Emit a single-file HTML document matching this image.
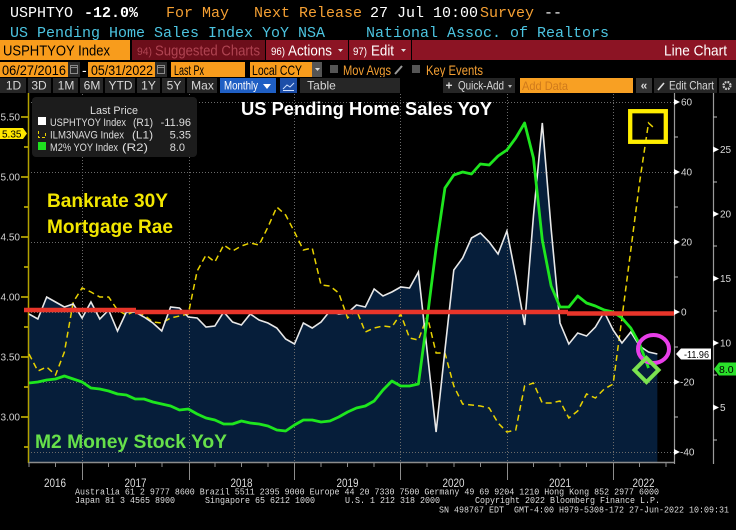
<!DOCTYPE html>
<html><head><meta charset="utf-8"><title>US Pending Home Sales YoY</title>
<style>
html,body{margin:0;padding:0;background:#000;}
svg{display:block;}
</style></head><body>
<svg width="736" height="530" viewBox="0 0 736 530" xmlns="http://www.w3.org/2000/svg">
<rect width="736" height="530" fill="#000"/>

<!-- Row 1 & 2 : ticker header -->
<g font-family="Liberation Mono, monospace" font-size="15">
<text x="10" y="17" fill="#ffffff">USPHTYO</text>
<text x="84" y="17" fill="#ffffff" font-weight="bold">-12.0%</text>
<text x="166" y="17" fill="#f5a033">For May</text>
<text x="254" y="17" fill="#f5a033">Next Release</text>
<text x="370" y="17" fill="#ffffff">27 Jul 10:00</text>
<text x="480" y="17" fill="#f5a033">Survey</text>
<text x="544" y="17" fill="#ffffff">--</text>
<text x="10" y="37" fill="#4cc4e0">US Pending Home Sales Index YoY NSA</text>
<text x="366" y="37" fill="#4cc4e0">National Assoc. of Realtors</text>
</g>

<!-- Row 3 : red bar -->
<g font-family="Liberation Sans, sans-serif">
<rect x="0" y="40" width="130" height="20" fill="#f89c1c"/>
<text x="3" y="55.5" font-size="15" fill="#000" textLength="107" lengthAdjust="spacingAndGlyphs">USPHTYOY Index</text>
<rect x="132" y="40" width="133" height="20" fill="#6c0e1a"/>
<text x="137" y="55" font-size="11" fill="#b04452" textLength="15" lengthAdjust="spacingAndGlyphs">94)</text>
<text x="155" y="55.5" font-size="15" fill="#b04452" textLength="105" lengthAdjust="spacingAndGlyphs">Suggested Charts</text>
<rect x="266" y="40" width="82" height="20" fill="#8c1424"/>
<text x="271" y="55" font-size="11" fill="#ffffff" textLength="14" lengthAdjust="spacingAndGlyphs">96)</text>
<text x="288" y="55.5" font-size="15" fill="#ffffff" textLength="44" lengthAdjust="spacingAndGlyphs">Actions</text>
<polygon points="338,49 343,49 340.5,52" fill="#dddddd"/>
<rect x="349" y="40" width="62" height="20" fill="#8c1424"/>
<text x="353" y="55" font-size="11" fill="#ffffff" textLength="14" lengthAdjust="spacingAndGlyphs">97)</text>
<text x="371" y="55.5" font-size="15" fill="#ffffff" textLength="23" lengthAdjust="spacingAndGlyphs">Edit</text>
<polygon points="401,49 406,49 403.5,52" fill="#dddddd"/>
<rect x="412" y="40" width="324" height="20" fill="#8c1424"/>
<text x="727" y="55.5" font-size="15" fill="#ffffff" text-anchor="end" textLength="63" lengthAdjust="spacingAndGlyphs">Line Chart</text>
</g>

<!-- Row 4 : date range -->
<g font-family="Liberation Sans, sans-serif" font-size="14">
<rect x="0" y="62" width="68" height="15" fill="#f89c1c"/>
<text x="2" y="75" fill="#000" textLength="64" lengthAdjust="spacingAndGlyphs">06/27/2016</text>
<rect x="68" y="62" width="12" height="15" fill="#2a2a2a"/>
<rect x="70.5" y="65.5" width="7" height="8" fill="none" stroke="#8a8a8a" stroke-width="1"/>
<line x1="70.5" y1="67.5" x2="77.5" y2="67.5" stroke="#8a8a8a"/>
<text x="82" y="75" fill="#ffffff">-</text>
<rect x="88" y="62" width="67" height="15" fill="#f89c1c"/>
<text x="91" y="75" fill="#000" textLength="62" lengthAdjust="spacingAndGlyphs">05/31/2022</text>
<rect x="155" y="62" width="12" height="15" fill="#2a2a2a"/>
<rect x="157.5" y="65.5" width="7" height="8" fill="none" stroke="#8a8a8a" stroke-width="1"/>
<line x1="157.5" y1="67.5" x2="164.5" y2="67.5" stroke="#8a8a8a"/>
<rect x="171" y="62" width="74" height="15" fill="#f89c1c"/>
<text x="174" y="75" fill="#000" textLength="30" lengthAdjust="spacingAndGlyphs">Last Px</text>
<rect x="250" y="62" width="62" height="15" fill="#f89c1c"/>
<text x="252" y="75" fill="#000" textLength="50" lengthAdjust="spacingAndGlyphs">Local CCY</text>
<rect x="312" y="62" width="10" height="15" fill="#555555"/>
<polygon points="315,68 320,68 317.5,71" fill="#dddddd"/>
<rect x="330" y="65" width="8" height="8" fill="#555555"/>
<text x="343" y="75" fill="#f5a033" textLength="48" lengthAdjust="spacingAndGlyphs">Mov Avgs</text>
<line x1="395" y1="74" x2="402" y2="66" stroke="#999" stroke-width="2"/>
<rect x="412" y="65" width="8" height="8" fill="#555555"/>
<text x="426" y="75" fill="#f5a033" textLength="57" lengthAdjust="spacingAndGlyphs">Key Events</text>
</g>

<!-- Row 5 : buttons -->
<g font-family="Liberation Sans, sans-serif" font-size="12" fill="#d8d8d8" text-anchor="middle">
<rect x="0" y="77" width="736" height="16" fill="#000"/>
<rect x="0" y="78" width="26" height="15" fill="#262626"/>
<rect x="28" y="78" width="23" height="15" fill="#262626"/>
<rect x="53" y="78" width="25" height="15" fill="#262626"/>
<rect x="80" y="78" width="23" height="15" fill="#262626"/>
<rect x="105" y="78" width="30" height="15" fill="#262626"/>
<rect x="137" y="78" width="23" height="15" fill="#262626"/>
<rect x="162" y="78" width="23" height="15" fill="#262626"/>
<rect x="187" y="78" width="30" height="15" fill="#262626"/>
<rect x="220" y="78" width="56" height="15" fill="#1f5fc4"/>
<rect x="280" y="78" width="17" height="15" fill="#1d4ea8"/>
<rect x="300" y="78" width="100" height="15" fill="#262626"/>
<rect x="443" y="78" width="72" height="15" fill="#262626"/>
<rect x="520" y="78" width="113" height="15" fill="#f8a023"/>
<rect x="636" y="78" width="16" height="15" fill="#333333"/>
<rect x="654" y="78" width="63" height="15" fill="#262626"/>
<rect x="719" y="78" width="17" height="15" fill="#262626"/>
<text x="13.5" y="89.5">1D</text>
<text x="39" y="89.5">3D</text>
<text x="66" y="89.5">1M</text>
<text x="92" y="89.5">6M</text>
<text x="120.5" y="89.5">YTD</text>
<text x="148.5" y="89.5">1Y</text>
<text x="174" y="89.5">5Y</text>
<text x="202.5" y="89.5">Max</text>
<text x="241" y="89.5" fill="#ffffff" textLength="34" lengthAdjust="spacingAndGlyphs">Monthly</text>
<polygon points="263,84 271,84 267,89" fill="#ffffff"/>
<polyline points="283,89 287,85 290,87 294,83" fill="none" stroke="#cfe0ff" stroke-width="1"/>
<line x1="283" y1="90.5" x2="294" y2="90.5" stroke="#cfe0ff" stroke-width="1"/>
<text x="321.5" y="89.5">Table</text>
<text x="449" y="89.5" font-weight="bold">+</text>
<text x="481" y="89.5" textLength="46" lengthAdjust="spacingAndGlyphs">Quick-Add</text>
<polygon points="508,85 512,85 510,88" fill="#bbbbbb"/>
<text x="545" y="90" fill="#cf7a1c" textLength="46" lengthAdjust="spacingAndGlyphs">Add Data</text>
<text x="644" y="89.5" font-weight="bold">«</text>
<line x1="658" y1="90" x2="664" y2="83" stroke="#dddddd" stroke-width="1.6"/>
<text x="691.5" y="89.5" textLength="45" lengthAdjust="spacingAndGlyphs">Edit Chart</text>
<circle cx="727" cy="85.5" r="3.5" fill="none" stroke="#cccccc" stroke-width="2.2" stroke-dasharray="1.8,1"/>
</g>

<!-- ===== Chart ===== -->
<polygon fill="#061e3a" points="29,314 37.85,319 46.7,297 55.55,302 64.4,307 73.25,304 82.1,318 90.95,302 99.8,319 108.65,310 117.5,331 126.35,312 135.2,312 144.05,317 152.9,323 161.75,331 170.6,307 179.45,308 188.3,317 197.15,318 206,327 214.85,326 223.7,312 232.55,322 241.4,325 250.25,314 259.1,320 267.95,323 276.8,328 285.65,339 294.5,344 303.35,323 312.2,328 321.05,322 329.9,311 338.75,314 347.6,313 356.45,305 365.3,307 374.15,289 383,296 391.85,292 400.7,287 409.55,288 418.4,272 427.25,352 436.1,432 444.95,350 453.8,270 462.65,258 471.5,238 480.35,233 489.2,242 498.05,254 506.9,231 515.75,276 524.6,325 533.45,216 542.3,123 551.15,229 560,323 568.85,344 577.7,333 586.55,336 595.4,327 604.25,312 613.1,330 621.95,343 630.8,332 639.65,346 648.5,352 657.35,354 657.35,462 29,462"/>

<g stroke="#6a6a6a" stroke-width="1" stroke-dasharray="1,2" fill="none">
<line x1="28" y1="102.5" x2="674" y2="102.5"/>
<line x1="28" y1="172.5" x2="674" y2="172.5"/>
<line x1="28" y1="242.5" x2="674" y2="242.5"/>
<line x1="28" y1="312.5" x2="674" y2="312.5"/>
<line x1="28" y1="382.5" x2="674" y2="382.5"/>
<line x1="28" y1="452.5" x2="674" y2="452.5"/>
<line x1="82.5" y1="94" x2="82.5" y2="462"/>
<line x1="189.5" y1="94" x2="189.5" y2="462"/>
<line x1="294.5" y1="94" x2="294.5" y2="462"/>
<line x1="400.5" y1="94" x2="400.5" y2="462"/>
<line x1="507.5" y1="94" x2="507.5" y2="462"/>
<line x1="613.5" y1="94" x2="613.5" y2="462"/>
</g>

<line x1="28" y1="462.5" x2="674" y2="462.5" stroke="#8c8c8c" stroke-width="1.5"/>
<line x1="28.5" y1="93" x2="28.5" y2="463" stroke="#b3a200" stroke-width="1.5"/>
<line x1="674.5" y1="93" x2="674.5" y2="464" stroke="#9a9a9a" stroke-width="1.2"/>
<line x1="713.5" y1="93" x2="713.5" y2="464" stroke="#9a9a9a" stroke-width="1.2"/>

<g stroke="#8c8c8c" stroke-width="1">
<line x1="29" y1="462" x2="29" y2="467"/><line x1="55.5" y1="462" x2="55.5" y2="467"/>
<line x1="82.5" y1="462" x2="82.5" y2="480"/><line x1="108.5" y1="462" x2="108.5" y2="467"/>
<line x1="135.5" y1="462" x2="135.5" y2="467"/><line x1="162" y1="462" x2="162" y2="467"/>
<line x1="189.5" y1="462" x2="189.5" y2="480"/><line x1="215" y1="462" x2="215" y2="467"/>
<line x1="241.5" y1="462" x2="241.5" y2="467"/><line x1="268" y1="462" x2="268" y2="467"/>
<line x1="294.5" y1="462" x2="294.5" y2="480"/><line x1="321" y1="462" x2="321" y2="467"/>
<line x1="347.5" y1="462" x2="347.5" y2="467"/><line x1="374" y1="462" x2="374" y2="467"/>
<line x1="400.5" y1="462" x2="400.5" y2="480"/><line x1="427" y1="462" x2="427" y2="467"/>
<line x1="454" y1="462" x2="454" y2="467"/><line x1="480.5" y1="462" x2="480.5" y2="467"/>
<line x1="507.5" y1="462" x2="507.5" y2="480"/><line x1="533.5" y1="462" x2="533.5" y2="467"/>
<line x1="560" y1="462" x2="560" y2="467"/><line x1="586.5" y1="462" x2="586.5" y2="467"/>
<line x1="613.5" y1="462" x2="613.5" y2="480"/><line x1="639.5" y1="462" x2="639.5" y2="467"/>
<line x1="666" y1="462" x2="666" y2="467"/>
</g>

<g font-family="Liberation Sans, sans-serif" font-size="11.5" fill="#dddddd" text-anchor="middle">
<text x="55" y="487" textLength="22" lengthAdjust="spacingAndGlyphs">2016</text>
<text x="135.5" y="487" textLength="22" lengthAdjust="spacingAndGlyphs">2017</text>
<text x="241.5" y="487" textLength="22" lengthAdjust="spacingAndGlyphs">2018</text>
<text x="347.5" y="487" textLength="22" lengthAdjust="spacingAndGlyphs">2019</text>
<text x="453.5" y="487" textLength="22" lengthAdjust="spacingAndGlyphs">2020</text>
<text x="560" y="487" textLength="22" lengthAdjust="spacingAndGlyphs">2021</text>
<text x="643.5" y="487" textLength="22" lengthAdjust="spacingAndGlyphs">2022</text>
</g>

<g font-family="Liberation Sans, sans-serif" font-size="10" fill="#d0d0d0" text-anchor="end">
<text x="20" y="120.5">5.50</text>
<text x="20" y="180.5">5.00</text>
<text x="20" y="240.5">4.50</text>
<text x="20" y="300.5">4.00</text>
<text x="20" y="360.5">3.50</text>
<text x="20" y="420.5">3.00</text>
</g>
<g stroke="#d4c000" stroke-width="1.5">
<line x1="21" y1="117" x2="28" y2="117"/><line x1="21" y1="177" x2="28" y2="177"/>
<line x1="21" y1="237" x2="28" y2="237"/><line x1="21" y1="297" x2="28" y2="297"/>
<line x1="21" y1="357" x2="28" y2="357"/><line x1="21" y1="417" x2="28" y2="417"/>
<line x1="24" y1="147" x2="28" y2="147"/><line x1="24" y1="207" x2="28" y2="207"/>
<line x1="24" y1="267" x2="28" y2="267"/><line x1="24" y1="327" x2="28" y2="327"/>
<line x1="24" y1="387" x2="28" y2="387"/><line x1="24" y1="447" x2="28" y2="447"/>
</g>
<polygon points="0,128 23,128 27,133.5 23,139 0,139" fill="#ffe800"/>
<text x="2" y="137.5" font-family="Liberation Sans, sans-serif" font-size="10" fill="#000">5.35</text>

<g fill="#ffffff">
<polygon points="674,99 680,102 674,105"/><polygon points="674,169 680,172 674,175"/>
<polygon points="674,239 680,242 674,245"/><polygon points="674,309 680,312 674,315"/>
<polygon points="674,379 680,382 674,385"/><polygon points="674,449 680,452 674,455"/>
</g>
<g stroke="#bbbbbb" stroke-width="1">
<line x1="674" y1="137" x2="678" y2="137"/><line x1="674" y1="207" x2="678" y2="207"/>
<line x1="674" y1="277" x2="678" y2="277"/><line x1="674" y1="347" x2="678" y2="347"/>
<line x1="674" y1="417" x2="678" y2="417"/>
</g>
<g font-family="Liberation Sans, sans-serif" font-size="10" fill="#d8d8d8">
<text x="681" y="105.5">60</text>
<text x="681" y="175.5">40</text>
<text x="681" y="245.5">20</text>
<text x="681" y="315.5">0</text>
<text x="680" y="385.5">-20</text>
<text x="680" y="455.5">-40</text>
</g>

<g fill="#ffffff">
<polygon points="713,146.5 719,149.5 713,152.5"/><polygon points="713,211 719,214 713,217"/>
<polygon points="713,275.5 719,278.5 713,281.5"/><polygon points="713,340 719,343 713,346"/>
<polygon points="713,404.5 719,407.5 713,410.5"/>
</g>
<g stroke="#bbbbbb" stroke-width="1">
<line x1="713" y1="117" x2="717" y2="117"/><line x1="713" y1="182" x2="717" y2="182"/>
<line x1="713" y1="246" x2="717" y2="246"/><line x1="713" y1="311" x2="717" y2="311"/>
<line x1="713" y1="375" x2="717" y2="375"/><line x1="713" y1="440" x2="717" y2="440"/>
</g>
<g font-family="Liberation Sans, sans-serif" font-size="10" fill="#d8d8d8">
<text x="720" y="153">25</text>
<text x="720" y="217.5">20</text>
<text x="720" y="282">15</text>
<text x="720" y="346.5">10</text>
<text x="720" y="411">5</text>
</g>

<polyline fill="none" stroke="#e8d200" stroke-width="1.5" stroke-dasharray="6,4" points="29,354 37.85,371 46.7,367 55.55,375 64.4,352 73.25,302 82.1,288 90.95,292 99.8,297 108.65,297 117.5,310 126.35,315 135.2,311 144.05,315 152.9,322 161.75,323 170.6,318 179.45,316 188.3,314 197.15,271 206,255 214.85,262 223.7,245 232.55,251 241.4,246 250.25,243 259.1,245 267.95,227 276.8,207 285.65,215 294.5,232 303.35,250 312.2,248 321.05,285 329.9,286 338.75,293 347.6,318 356.45,310 365.3,332 374.15,328 383,326 391.85,327 400.7,314 409.55,338 418.4,340 427.25,316 436.1,353 444.95,353 453.8,386 462.65,404 471.5,405 480.35,406 489.2,408 498.05,423 506.9,432 515.75,430 524.6,386 533.45,383 542.3,403 551.15,403 560,401 568.85,418 577.7,411 586.55,394 595.4,398 604.25,389 613.1,384 621.95,318 630.8,250 639.65,182 648.5,123 654,128"/>

<polyline fill="none" stroke="#e8e8e8" stroke-width="1.6" points="29,314 37.85,319 46.7,297 55.55,302 64.4,307 73.25,304 82.1,318 90.95,302 99.8,319 108.65,310 117.5,331 126.35,312 135.2,312 144.05,317 152.9,323 161.75,331 170.6,307 179.45,308 188.3,317 197.15,318 206,327 214.85,326 223.7,312 232.55,322 241.4,325 250.25,314 259.1,320 267.95,323 276.8,328 285.65,339 294.5,344 303.35,323 312.2,328 321.05,322 329.9,311 338.75,314 347.6,313 356.45,305 365.3,307 374.15,289 383,296 391.85,292 400.7,287 409.55,288 418.4,272 427.25,352 436.1,432 444.95,350 453.8,270 462.65,258 471.5,238 480.35,233 489.2,242 498.05,254 506.9,231 515.75,276 524.6,325 533.45,216 542.3,123 551.15,229 560,323 568.85,344 577.7,333 586.55,336 595.4,327 604.25,312 613.1,330 621.95,343 630.8,332 639.65,346 648.5,352 657.35,354"/>

<polyline fill="none" stroke="#1ee61e" stroke-width="2.8" stroke-linejoin="round" points="29,383 37.85,382 46.7,380 55.55,379 64.4,376 73.25,379 82.1,382 90.95,388 99.8,389 108.65,391 117.5,394 126.35,395 135.2,399 144.05,399 152.9,402 161.75,404 170.6,406 179.45,410 188.3,409 197.15,414 206,418 214.85,420 223.7,424 232.55,424 241.4,421 250.25,423 259.1,424 267.95,426 276.8,430 285.65,431 294.5,425 303.35,420 312.2,420 321.05,422 329.9,421 338.75,417 347.6,412 356.45,408 365.3,406 374.15,401 383,390 391.85,381 400.7,386 409.55,386 418.4,384 427.25,318 436.1,248 444.95,188 453.8,175 462.65,172 471.5,174 480.35,164 489.2,165 498.05,156 506.9,150 515.75,138 524.6,123 533.45,158 542.3,240 551.15,286 560,307 568.85,307 577.7,296 586.55,303 595.4,306 604.25,310 613.1,312 621.95,318 630.8,328 639.65,344 648.5,368"/>

<g stroke="#e8352a" stroke-width="4.5">
<line x1="24" y1="310" x2="136" y2="310"/>
<line x1="135" y1="312" x2="568" y2="312"/>
<line x1="567" y1="313.5" x2="674" y2="313.5"/>
</g>

<rect x="630.2" y="111.2" width="35.6" height="30.6" fill="none" stroke="#ffee00" stroke-width="4.3"/>
<ellipse cx="653.5" cy="349" rx="15.5" ry="14" fill="none" stroke="#e83ee8" stroke-width="4"/>
<polygon points="646.5,358 658.5,370 646.5,382 634.5,370" fill="none" stroke="#7be34f" stroke-width="4"/>

<polygon points="676,354 681,348.5 711,348.5 711,359.5 681,359.5" fill="#ffffff"/>
<text x="684" y="357.8" font-family="Liberation Sans, sans-serif" font-size="10" fill="#000" textLength="25" lengthAdjust="spacingAndGlyphs">-11.96</text>
<polygon points="714,369 719,362.5 736,362.5 736,375.5 719,375.5" fill="#2ae02a"/>
<text x="719" y="373" font-family="Liberation Sans, sans-serif" font-size="10.5" fill="#000">8.0</text>

<rect x="32" y="97" width="165" height="60" rx="4" fill="#1c1c1c"/>
<g font-family="Liberation Sans, sans-serif" font-size="11" fill="#dddddd">
<text x="90" y="114" textLength="48" lengthAdjust="spacingAndGlyphs">Last Price</text>
<rect x="38" y="117" width="8" height="8" fill="#ffffff"/>
<text x="50" y="126" textLength="76" lengthAdjust="spacingAndGlyphs">USPHTYOY Index</text>
<text x="133" y="126" textLength="20" lengthAdjust="spacingAndGlyphs">(R1)</text>
<text x="191" y="126" text-anchor="end">-11.96</text>
<path d="M38.5,131 V137.5 H45.5 V131" fill="none" stroke="#e8d200" stroke-width="1" stroke-dasharray="3,2"/>
<text x="50" y="138.5" textLength="74" lengthAdjust="spacingAndGlyphs">ILM3NAVG Index</text>
<text x="132" y="138.5" textLength="21" lengthAdjust="spacingAndGlyphs">(L1)</text>
<text x="191" y="138.5" text-anchor="end">5.35</text>
<rect x="38" y="142" width="8" height="8" fill="#1fe01f"/>
<text x="50" y="151" textLength="68" lengthAdjust="spacingAndGlyphs">M2% YOY Index</text>
<text x="122" y="151" textLength="26" lengthAdjust="spacingAndGlyphs">(R2)</text>
<text x="185" y="151" text-anchor="end">8.0</text>
</g>

<g font-family="Liberation Sans, sans-serif" font-weight="bold">
<text x="241" y="115" font-size="18" fill="#ffffff" textLength="251" lengthAdjust="spacingAndGlyphs">US Pending Home Sales YoY</text>
<text x="47" y="207" font-size="19" fill="#f2e600" textLength="121" lengthAdjust="spacingAndGlyphs">Bankrate 30Y</text>
<text x="47" y="233" font-size="19" fill="#f2e600" textLength="126" lengthAdjust="spacingAndGlyphs">Mortgage Rae</text>
<text x="35" y="448" font-size="19" fill="#66e04a" textLength="192" lengthAdjust="spacingAndGlyphs">M2 Money Stock YoY</text>
</g>

<g font-family="Liberation Mono, monospace" font-size="9.5" fill="#dddddd">
<text x="75" y="494.5" textLength="584" lengthAdjust="spacingAndGlyphs">Australia 61 2 9777 8600 Brazil 5511 2395 9000 Europe 44 20 7330 7500 Germany 49 69 9204 1210 Hong Kong 852 2977 6000</text>
<text x="75" y="503" textLength="100" lengthAdjust="spacingAndGlyphs">Japan 81 3 4565 8900</text>
<text x="205" y="503" textLength="110" lengthAdjust="spacingAndGlyphs">Singapore 65 6212 1000</text>
<text x="345" y="503" textLength="95" lengthAdjust="spacingAndGlyphs">U.S. 1 212 318 2000</text>
<text x="475" y="503" textLength="185" lengthAdjust="spacingAndGlyphs">Copyright 2022 Bloomberg Finance L.P.</text>
<text x="439" y="512.5" textLength="65" lengthAdjust="spacingAndGlyphs">SN 498767 EDT</text>
<text x="514" y="512.5" textLength="215" lengthAdjust="spacingAndGlyphs">GMT-4:00 H979-5308-172 27-Jun-2022 10:09:31</text>
</g>
</svg>
</body></html>
